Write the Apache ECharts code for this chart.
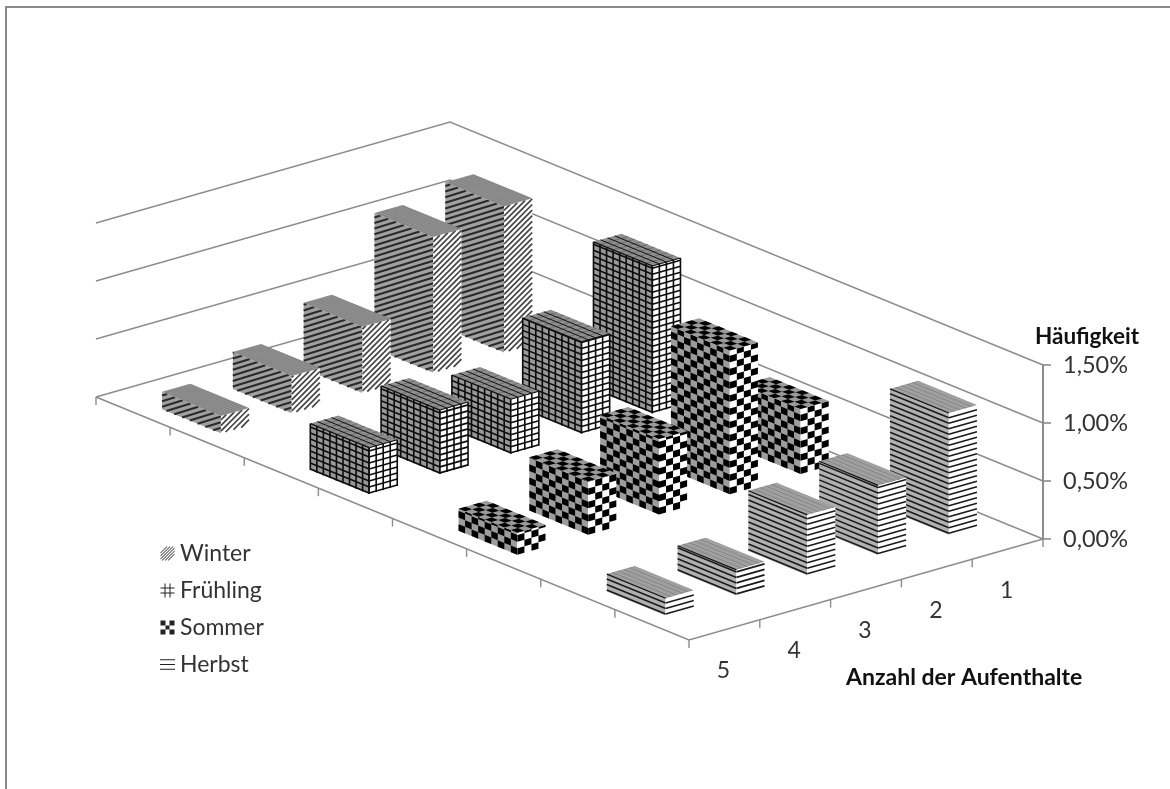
<!DOCTYPE html>
<html>
<head>
<meta charset="utf-8">
<title>Häufigkeit nach Anzahl der Aufenthalte</title>
<style>html,body{margin:0;padding:0;background:#fff}#chart{width:1170px;height:789px}</style>
<script src="https://cdn.jsdelivr.net/npm/echarts@6/dist/echarts.min.js"></script>
</head>
<body>
<div id="chart"></div>
<script>
// Categories and values
const stayLabels = ['1', '2', '3', '4', '5'];
const seasonNames = ['Winter', 'Frühling', 'Sommer', 'Herbst'];
const valueTicks = [0, 0.5, 1, 1.5];
const winterValues = [1.26, 1.17, 0.57, 0.32, 0.15];
const fruehlingValues = [1.27, 0.79, 0.47, 0.55, 0.40];
const sommerValues = [0.56, 1.24, 0.65, 0.46, 0.19];
const herbstValues = [1.05, 0.60, 0.52, 0.22, 0.15];
const seasonValues = [winterValues, fruehlingValues, sommerValues, herbstValues];
const seasonPatterns = ['diagonal', 'grid', 'checker', 'lines'];

// Floor of the oblique box: left, front and right corners in page space
const FLOOR_LEFT = [96, 397];
const FLOOR_FRONT = [689, 640];
const FLOOR_RIGHT = [1043, 539];
const AXIS_GREY = '#8c8c8c';
const TEXT_COLOR = '#333333';
const FONT = 'Lato, "Noto Sans", sans-serif';
const BAR_FRACTION = 0.397;

const seasonStep = [(FLOOR_FRONT[0] - FLOOR_LEFT[0]) / 4, (FLOOR_FRONT[1] - FLOOR_LEFT[1]) / 4];
const floorSlope = (FLOOR_RIGHT[1] - FLOOR_FRONT[1]) / (FLOOR_RIGHT[0] - FLOOR_FRONT[0]);

// Floor position for a page x on the front-right edge, moved back along the season direction
function floorPoint(x, seasonOffset) {
  return [
    x + (seasonOffset - 4) * seasonStep[0],
    FLOOR_FRONT[1] + (x - FLOOR_FRONT[0]) * floorSlope + (seasonOffset - 4) * seasonStep[1]
  ];
}

function poly(points, fill, z2) {
  return { type: 'polygon', shape: { points }, style: { fill, stroke: null }, z2, silent: true };
}
function line(points, stroke, width, z2) {
  return {
    type: 'polyline', shape: { points },
    style: { fill: null, stroke, lineWidth: width, lineCap: 'butt' }, z2, silent: true
  };
}

// Clips w = c + m * u against the side face rectangle u:[0,1], w:[0,h]
function clipLine(c, m, h) {
  let u0 = 0, u1 = 1;
  if (m !== 0) {
    const a = (0 - c) / m, b = (h - c) / m;
    u0 = Math.max(u0, Math.min(a, b));
    u1 = Math.min(u1, Math.max(a, b));
  } else if (c < 0 || c > h) {
    return null;
  }
  return u1 > u0 ? [u0, u1] : null;
}

// One vertical side of a bar: origin, bottom edge vector and height in pixels
function drawSide(out, pattern, origin, edge, h, isWide, z2) {
  const at = (u, w) => [origin[0] + u * edge[0], origin[1] + u * edge[1] - w];
  const greys = { diagonal: '#a0a0a0', grid: '#989898', checker: '#9c9c9c', lines: '#b0b0b0' };
  const bg = isWide ? greys[pattern] : '#ffffff';
  out.push(poly([at(0, 0), at(1, 0), at(1, h), at(0, h)], bg, z2));
  if (pattern === 'diagonal') {
    const gradient = 0.72 * edge[0];
    const ink = isWide ? '#2a2a2a' : '#444444';
    const width = isWide ? 2.1 : 1.7;
    for (let c = -gradient; c < h; c += 5.6) {
      const span = clipLine(c, gradient, h);
      if (span) out.push(line([at(span[0], c + gradient * span[0]), at(span[1], c + gradient * span[1])], ink, width, z2));
    }
  } else if (pattern === 'grid') {
    const cols = Math.round(edge[0] / 6.4);
    for (let w = 1; w <= h; w += 6) out.push(line([at(0, w), at(1, w)], '#0c0c0c', 1.6, z2));
    for (let j = 0; j <= cols; j++) out.push(line([at(j / cols, 0), at(j / cols, h)], '#0c0c0c', 1.6, z2));
  } else if (pattern === 'checker') {
    const cols = Math.round(edge[0] / 6.4);
    const rowH = 6.6;
    for (let r = 0; r * rowH < h; r++) {
      const w0 = r * rowH, w1 = Math.min(h, w0 + rowH);
      for (let j = 0; j < cols; j++) {
        if ((r + j) % 2 === 0) {
          out.push(poly([at(j / cols, w0), at((j + 1) / cols, w0), at((j + 1) / cols, w1), at(j / cols, w1)], '#000000', z2));
        }
      }
    }
  } else {
    for (let w = 1.5; w <= h; w += 5.5) out.push(line([at(0, w), at(1, w)], '#1a1a1a', 1.6, z2));
  }
}

// Lid of a bar, spanned by the two footprint vectors
function drawTop(out, pattern, corner, uVec, vVec, z2) {
  const at = (a, b) => [corner[0] + a * uVec[0] + b * vVec[0], corner[1] + a * uVec[1] + b * vVec[1]];
  const lid = [at(0, 0), at(1, 0), at(1, 1), at(0, 1)];
  const rows = (n, color, width) => {
    for (let i = 1; i < n; i++) out.push(line([at(0, i / n), at(1, i / n)], color, width, z2));
  };
  const cols = (n, color, width) => {
    for (let i = 1; i < n; i++) out.push(line([at(i / n, 0), at(i / n, 1)], color, width, z2));
  };
  if (pattern === 'diagonal') {
    out.push(poly(lid, '#8c8c8c', z2));
    rows(7, '#a0a0a0', 0.5);
    cols(22, '#7c7c7c', 0.5);
  } else if (pattern === 'grid') {
    out.push(poly(lid, '#8e8e8e', z2));
    cols(9, '#606060', 0.7);
    rows(4, '#111111', 1);
    out.push(line([at(0, 0), at(1, 0)], '#111111', 1.3, z2));
    out.push(line([at(1, 0), at(1, 1)], '#111111', 1.1, z2));
  } else if (pattern === 'checker') {
    out.push(poly(lid, '#9a9a9a', z2));
    const nu = 9, nv = 4;
    for (let i = 0; i < nu; i++) {
      for (let j = 0; j < nv; j++) {
        if ((i + j) % 2 === 0) {
          out.push(poly([at(i / nu, j / nv), at((i + 1) / nu, j / nv), at((i + 1) / nu, (j + 1) / nv), at(i / nu, (j + 1) / nv)], '#000000', z2));
        }
      }
    }
  } else {
    out.push(poly(lid, '#989898', z2));
    cols(20, '#b4b4b4', 0.6);
    rows(5, '#767676', 0.6);
    out.push(line([at(0, 0), at(1, 0)], '#111111', 1.2, z2));
  }
}

function barRenderer(seasonIndex) {
  return function (params, api) {
    const stay = api.value(0);
    const base = api.coord([stay, 0]);
    const bandWidth = api.size([1, 0])[0];
    const height = base[1] - api.coord([stay, api.value(1)])[1];
    const centre = floorPoint(base[0], seasonIndex + 0.5);
    const uVec = [seasonStep[0] * BAR_FRACTION, seasonStep[1] * BAR_FRACTION];
    const vVec = [bandWidth * BAR_FRACTION, bandWidth * floorSlope * BAR_FRACTION];
    const left = [centre[0] - uVec[0] / 2 - vVec[0] / 2, centre[1] - uVec[1] / 2 - vVec[1] / 2];
    const front = [left[0] + uVec[0], left[1] + uVec[1]];
    const pattern = seasonPatterns[seasonIndex];
    const z2 = seasonIndex * 10 + stay;
    const children = [];
    drawSide(children, pattern, left, uVec, height, true, z2);
    drawSide(children, pattern, front, vVec, height, false, z2);
    drawTop(children, pattern, [left[0], left[1] - height], uVec, vVec, z2);
    return { type: 'group', children };
  };
}

// Back walls: one gridline per value tick, running left corner, back corner, right corner
function wallRenderer(params, api) {
  const base = api.coord([0, 0])[1];
  const rise = base - api.coord([0, api.value(1)])[1];
  const back = [
    FLOOR_LEFT[0] + FLOOR_RIGHT[0] - FLOOR_FRONT[0],
    FLOOR_LEFT[1] + FLOOR_RIGHT[1] - FLOOR_FRONT[1]
  ];
  return line([
    [FLOOR_LEFT[0], FLOOR_LEFT[1] - rise],
    [back[0], back[1] - rise],
    [FLOOR_RIGHT[0], FLOOR_RIGHT[1] - rise]
  ], AXIS_GREY, 1.4, 0);
}

// Front floor edges with their ticks and the stay labels
function edgeRenderer(params, api) {
  const bandWidth = api.size([1, 0])[0];
  const children = [
    line([FLOOR_LEFT, FLOOR_FRONT, FLOOR_RIGHT], AXIS_GREY, 1.6, 1)
  ];
  for (let i = 0; i <= 8; i++) {
    const x = FLOOR_LEFT[0] + i * seasonStep[0] / 2;
    const y = FLOOR_LEFT[1] + i * seasonStep[1] / 2;
    children.push(line([[x, y], [x, y + 8]], AXIS_GREY, 1.4, 1));
  }
  stayLabels.forEach((label, i) => {
    const centreX = api.coord([i, 0])[0];
    const tickX = centreX + bandWidth / 2;
    const tickY = FLOOR_FRONT[1] + (tickX - FLOOR_FRONT[0]) * floorSlope;
    children.push(line([[tickX, tickY], [tickX, tickY + 8]], AXIS_GREY, 1.4, 1));
    const midY = FLOOR_FRONT[1] + (centreX - FLOOR_FRONT[0]) * floorSlope;
    children.push({
      type: 'text', silent: true, z2: 1,
      style: {
        text: label, x: centreX - 1, y: midY + 41, fill: TEXT_COLOR,
        font: '23px ' + FONT, textAlign: 'center', textVerticalAlign: 'middle'
      }
    });
  });
  return { type: 'group', children };
}

const legendIcons = [
  'path://M0 9L9 0L10 0L0 10ZM0 12L12 0L13 0L0 13ZM1 14L14 1L14 2L2 14ZM4 14L14 4L14 5L5 14ZM7 14L14 7L14 8L8 14ZM0 6L6 0L7 0L0 7Z',
  'path://M0 4H14V5H0ZM0 9H14V10H0ZM4 0H5V14H4ZM9 0H10V14H9Z',
  'path://M0 0H5V5H0ZM9 0H14V5H9ZM5 5H9V9H5ZM0 9H5V14H0ZM9 9H14V14H9Z',
  'path://M0 2H14V3H0ZM0 6.5H14V7.5H0ZM0 11H14V12H0Z'
];

const chart = echarts.init(document.getElementById('chart'));
chart.setOption({
  animation: false,
  backgroundColor: '#ffffff',
  textStyle: { fontFamily: FONT },
  grid: {
    left: FLOOR_FRONT[0], right: 1170 - FLOOR_RIGHT[0],
    top: 365, bottom: 789 - FLOOR_RIGHT[1], containLabel: false
  },
  xAxis: { type: 'category', data: stayLabels, inverse: true, show: false },
  yAxis: {
    type: 'value', position: 'right', min: 0, max: 1.5, interval: 0.5,
    name: 'Häufigkeit',
    nameLocation: 'end',
    nameGap: 17,
    nameTextStyle: { color: '#111111', fontSize: 22.5, fontWeight: 'bold', fontFamily: FONT, padding: [0, 0, 0, 88] },
    axisLine: { show: true, lineStyle: { color: AXIS_GREY, width: 2 } },
    axisTick: { show: true, length: 8, lineStyle: { color: AXIS_GREY, width: 1.6 } },
    splitLine: { show: false },
    axisLabel: {
      margin: 20, color: TEXT_COLOR, fontSize: 23.5, fontFamily: FONT,
      formatter: v => v.toFixed(2).replace('.', ',') + '%'
    }
  },
  legend: {
    orient: 'vertical', left: 160, top: 542, padding: 0,
    itemWidth: 15, itemHeight: 14, itemGap: 14,
    textStyle: { color: TEXT_COLOR, fontSize: 23, fontFamily: FONT },
    selectedMode: false,
    data: seasonNames.map((name, i) => ({ name, icon: legendIcons[i], itemStyle: { color: '#222222' } }))
  },
  graphic: [
    { type: 'polyline', silent: true, shape: { points: [[6, 789], [6, 7], [1170, 7]] }, style: { fill: null, stroke: '#8a8a8a', lineWidth: 2 } },
    { type: 'text', silent: true, left: 846, top: 666, style: { text: 'Anzahl der Aufenthalte', fill: '#111111', font: 'bold 23px ' + FONT } }
  ],
  series: [
    { type: 'custom', name: 'Wände', coordinateSystem: 'cartesian2d', z: 1, data: valueTicks.map(v => [0, v]), encode: { x: 0, y: 1 }, renderItem: wallRenderer },
    { type: 'custom', name: 'Boden', coordinateSystem: 'cartesian2d', z: 1, data: [[0, 0]], encode: { x: 0, y: 1 }, renderItem: edgeRenderer }
  ].concat(seasonNames.map((name, s) => ({
    type: 'custom',
    name,
    coordinateSystem: 'cartesian2d',
    z: 2 + s,
    itemStyle: { color: '#222222' },
    data: seasonValues[s].map((v, i) => [i, v]),
    encode: { x: 0, y: 1 },
    renderItem: barRenderer(s)
  })))
});
</script>
</body>
</html>
